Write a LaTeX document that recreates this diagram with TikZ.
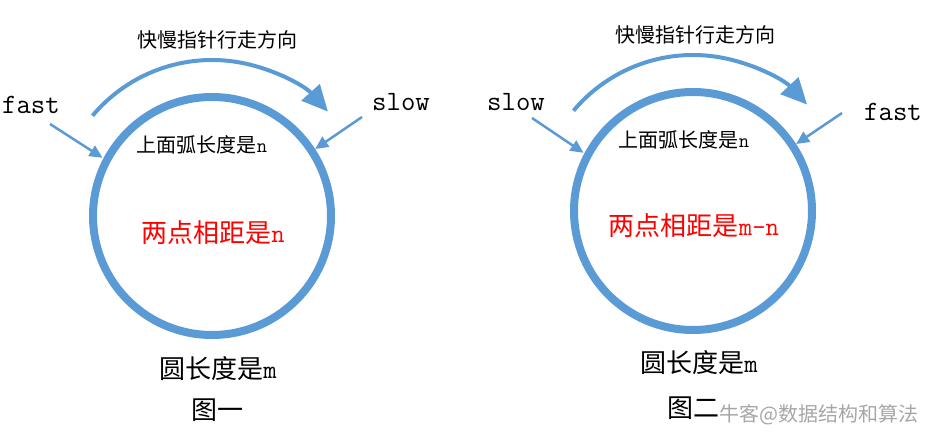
\documentclass[tikz,border=0pt]{standalone}
\usepackage{fontspec}
\usepackage{tikz}
\usetikzlibrary{arrows.meta}
\newfontfamily\cjk{Noto Sans CJK SC}
\definecolor{ringblue}{RGB}{91,155,213}

\begin{document}
\begin{tikzpicture}
[x=1pt, y=1pt,
ring/.style={ringblue, line width=8pt},
turn/.style={ringblue, line width=4pt, -{Triangle[length=26pt,width=24pt]}},
pointer/.style={ringblue, line width=2.5pt, -{Triangle[length=13pt,width=12pt]}},
caption/.style={font=\cjk\fontsize{20}{24}\selectfont},
big/.style={font=\cjk\fontsize{26}{30}\selectfont},
ptrname/.style={font=\ttfamily\fontsize{28}{32}\selectfont},
watermark/.style={font=\cjk\fontsize{20}{24}\selectfont, black!35}]
\useasboundingbox (0,0) rectangle (930,436);
\coordinate (c1) at (212,220);
\coordinate (c2) at (693,225);
\draw[ring] (c1) circle[radius=119];
\draw[ring] (c2) circle[radius=119];
\draw[turn] ([shift={(140:156)}]c1) arc[start angle=140, end angle=42, radius=156];
\draw[turn] ([shift={(140:156)}]c2) arc[start angle=140, end angle=43, radius=156];
\node[caption] (dir1) at (217,396) {快慢指针行走方向};
\node[caption] (dir2) at (695,401) {快慢指针行走方向};
\node[ptrname] (fast1) at (31,331) {fast};
\node[ptrname] (slow1) at (401,334) {slow};
\node[ptrname] (slow2) at (516,334) {slow};
\node[ptrname] (fast2) at (893,324) {fast};
\coordinate (fast1 tail) at (50,312);
\coordinate (fast1 tip) at ([shift={(152:124)}]c1);
\coordinate (slow1 tail) at (362,319);
\coordinate (slow1 tip) at ([shift={(33:123)}]c1);
\coordinate (slow2 tail) at (532,318);
\coordinate (slow2 tip) at ([shift={(152:124)}]c2);
\coordinate (fast2 tail) at (842,323);
\coordinate (fast2 tip) at ([shift={(33:123)}]c2);
\draw[pointer] (fast1 tail) -- (fast1 tip);
\draw[pointer] (slow1 tail) -- (slow1 tip);
\draw[pointer] (slow2 tail) -- (slow2 tip);
\draw[pointer] (fast2 tail) -- (fast2 tip);
\node[caption] (arc1) at (202,291) {上面弧长度是{\ttfamily n}};
\node[caption] (arc2) at (684,296) {上面弧长度是{\ttfamily n}};
\node[big, red] (gap1) at (213,203) {两点相距是{\ttfamily n}};
\node[big, red] (gap2) at (694,210) {两点相距是{\ttfamily m-n}};
\node[big] (len1) at (218,67) {圆长度是{\ttfamily m}};
\node[big] (len2) at (699,73) {圆长度是{\ttfamily m}};
\node[big] (fig1) at (217,26) {图一};
\node[big] (fig2) at (693,28) {图二};
\node[watermark, anchor=east] (site) at (922,21) {牛客@数据结构和算法};
\end{tikzpicture}
\end{document}
